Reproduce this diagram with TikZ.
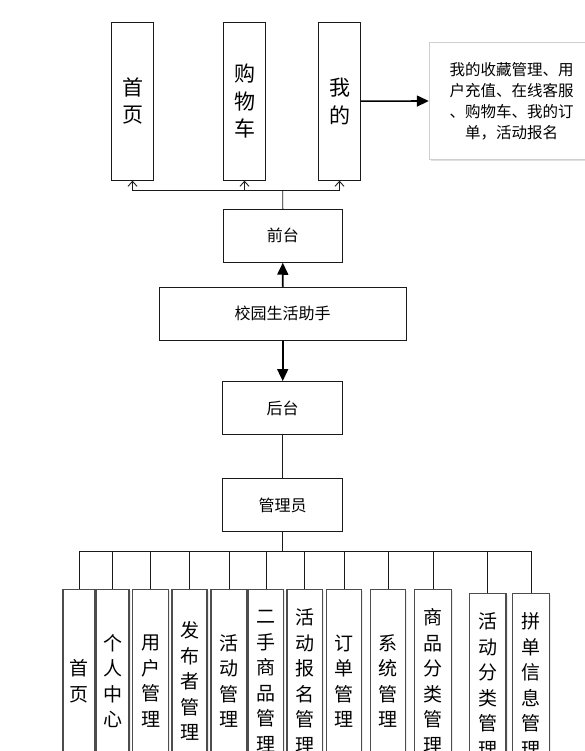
\documentclass[tikz,border=0pt]{standalone}
\usepackage{fontspec}
\setmainfont{Noto Sans CJK SC}
\usetikzlibrary{arrows.meta,shadows}
\definecolor{clLine}{HTML}{1A1A1A}
\definecolor{clFrame}{HTML}{4D4D4D}
\definecolor{clSoft}{HTML}{CFCFCF}
\tikzset{
  cl box/.style={draw=clLine, line width=0.9pt, fill=white, minimum width=120pt, minimum height=53pt, inner sep=0pt, font=\fontsize{16}{19}\selectfont},
  cl top/.style={draw=clLine, line width=0.9pt, fill=white, minimum width=42pt, minimum height=158pt, inner sep=0pt, align=center, font=\fontsize{21}{27.5}\selectfont},
  cl leaf/.style={draw=clFrame, line width=1.2pt, fill=white, minimum height=183pt, inner sep=0pt, align=center, font=\fontsize{19}{25.5}\selectfont,
    drop shadow={shadow xshift=1.5pt, shadow yshift=-1.5pt, opacity=0.15}},
  cl note/.style={draw=clSoft, line width=0.8pt, fill=white, minimum width=165pt, minimum height=117pt, text width=140pt, align=center, inner sep=0pt,
    font=\fontsize{15.5}{21}\selectfont, drop shadow={shadow xshift=2pt, shadow yshift=-2pt, opacity=0.25}},
  cl link/.style={draw=clLine, line width=0.9pt},
  cl barb/.style={cl link, -{Straight Barb[length=5pt,width=9pt]}},
  cl flow/.style={draw=black, line width=1.6pt, -{Triangle[length=12pt,width=11pt]}},
}
\begin{document}
\begin{tikzpicture}[x=1pt,y=-1pt]
  \useasboundingbox (0,0) rectangle (585,751);
  \clip (0,0) rectangle (585,751);
  % front end
  \node[cl top, minimum width=41.6pt] (home) at (132.5,101.2) {首\\页};
  \node[cl top] (cart) at (244.5,101.2) {购\\物\\车};
  \node[cl top] (mine) at (339.5,101.2) {我\\的};
  \node[cl note] (mineNote) at (511.7,101) {我的收藏管理、用\\户充值、在线客服\\、购物车、我的订\\单，活动报名};
  \node[cl box, minimum width=119pt] (front) at (282.8,235.8) {前台};
  \node[cl box, minimum width=246.7pt] (app) at (282.7,313.7) {校园生活助手};
  \node[cl box] (back) at (282.7,408) {后台};
  \node[cl box] (admin) at (282.7,505.2) {管理员};
  \coordinate (topBus) at (282.7,190.7);
  \coordinate (lowBus) at (282.7,551.7);
  \draw[cl link] (front.north) -- (topBus);
  \foreach \n in {home,cart,mine} {
    \draw[cl barb] (topBus) -| (\n.south);
  }
  \draw[cl flow] (mine.east) -- (mineNote.west);
  \draw[cl flow] (app.north) -- (front.south);
  \draw[cl flow] (app.south) -- (back.north);
  \draw[cl link] (back.south) -- (admin.north);
  \draw[cl link] (admin.south) -- (lowBus);
  % back end modules
  \foreach \i/\cx/\w/\t/\txt in {
      1/79/32/589/{首\\页},
      2/112.5/33/589/{个\\人\\中\\心},
      3/150.5/35.6/589/{用\\户\\管\\理},
      4/189.5/35/589/{发\\布\\者\\管\\理},
      5/229/36/589/{活\\动\\管\\理},
      6/266/34.5/589/{二\\手\\商\\品\\管\\理},
      7/304.8/35.5/589/{活\\动\\报\\名\\管\\理},
      8/344.2/35/589/{订\\单\\管\\理},
      9/388.2/35/589/{系\\统\\管\\理},
      10/433/36.6/589/{商\\品\\分\\类\\管\\理},
      11/487.7/36.7/593/{活\\动\\分\\类\\管\\理},
      12/531/36.6/593/{拼\\单\\信\\息\\管\\理}} {
    \node[cl leaf, minimum width=\w pt, anchor=north] (leaf\i) at (\cx,\t) {\txt};
    \draw[cl link] (leaf\i.north) |- (lowBus);
  }
\end{tikzpicture}
\end{document}
